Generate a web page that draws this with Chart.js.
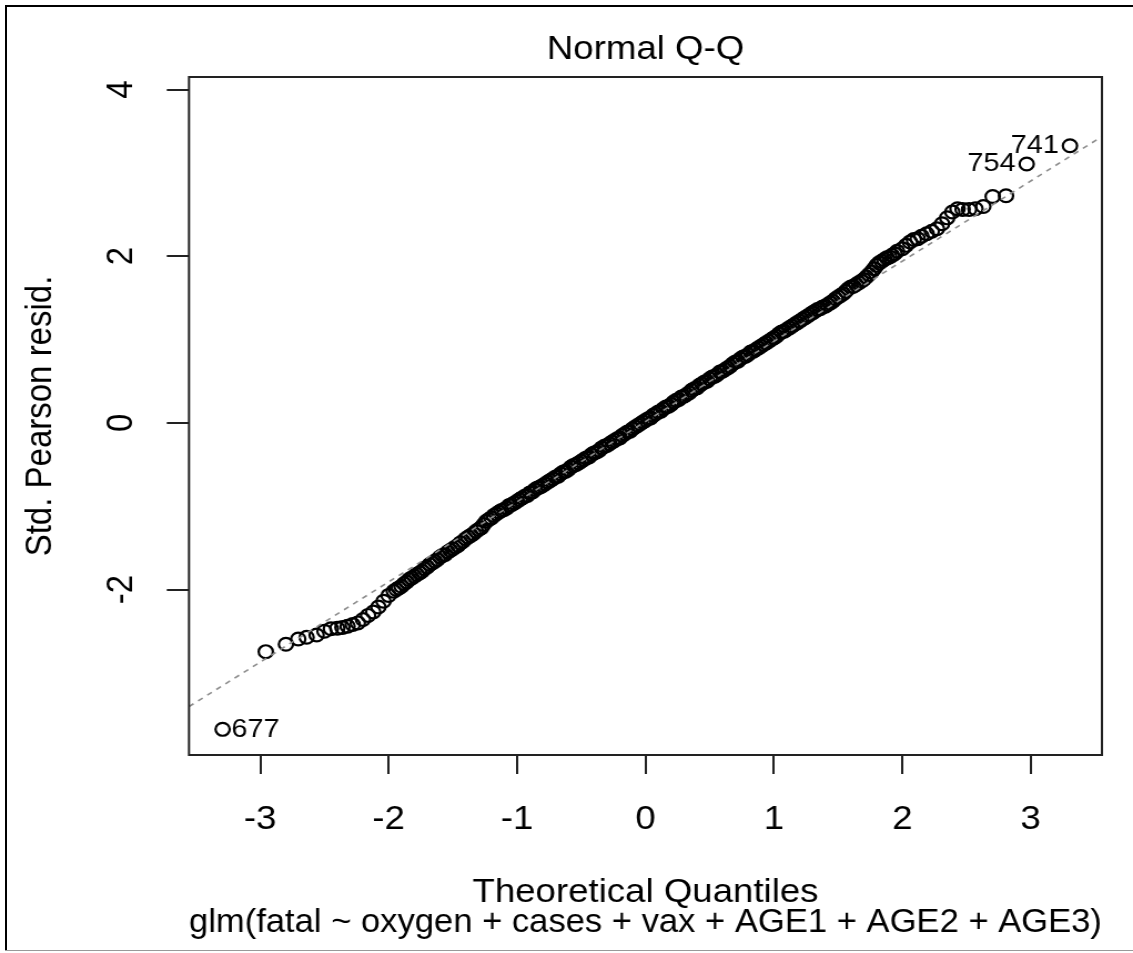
<!DOCTYPE html>
<html>
<head>
<meta charset="utf-8">
<title>Normal Q-Q</title>
<script src="https://cdn.jsdelivr.net/npm/chart.js@4.4.1/dist/chart.umd.min.js"></script>
<style>
  html, body { margin: 0; padding: 0; background: #fff; }
  body { width: 1133px; height: 953px; position: relative; overflow: hidden; }
  .edge { position: absolute; z-index: 2; }
  #edgeLeft { left: 5px; top: 5px; width: 2px; height: 946px; background: #000; }
  #edgeTop { left: 5px; top: 5px; width: 1128px; height: 2px; background: #000; }
  #edgeBottom { left: 5px; top: 950px; width: 1128px; height: 1px; background: #999; }
  /* the source image is a little wider than it is tall, so stretch the canvas sideways */
  #wrap { position: absolute; left: 0; top: 0; width: 1021px; height: 953px; transform: scaleX(1.1097); transform-origin: 0 0; }
</style>
</head>
<body>
<div id="wrap"><canvas id="qq" width="1021" height="953"></canvas></div>
<div class="edge" id="edgeLeft"></div>
<div class="edge" id="edgeTop"></div>
<div class="edge" id="edgeBottom"></div>
<script>
// theoretical quantiles (x) and standardized Pearson residuals (y)
var theoQ = [
  -3.293, -2.957, -2.800, -2.704, -2.639, -2.561, -2.500, -2.450, -2.400, -2.360,
  -2.320, -2.280, -2.240, -2.200, -2.160, -2.120, -2.080, -2.040, -2.000,
  -1.96, -1.94, -1.92, -1.90, -1.88, -1.86, -1.84, -1.82, -1.80, -1.78,
  -1.76, -1.74, -1.72, -1.70, -1.68, -1.66, -1.64, -1.62, -1.60, -1.58,
  -1.56, -1.54, -1.52, -1.50, -1.48, -1.46, -1.44, -1.42, -1.40, -1.38,
  -1.36, -1.34, -1.32, -1.30, -1.28, -1.26, -1.24, -1.22, -1.20, -1.18,
  -1.16, -1.14, -1.12, -1.10, -1.08, -1.06, -1.04, -1.02, -1.00, -0.98,
  -0.96, -0.94, -0.92, -0.90, -0.88, -0.86, -0.84, -0.82, -0.80, -0.78,
  -0.76, -0.74, -0.72, -0.70, -0.68, -0.66, -0.64, -0.62, -0.60, -0.58,
  -0.56, -0.54, -0.52, -0.50, -0.48, -0.46, -0.44, -0.42, -0.40, -0.38,
  -0.36, -0.34, -0.32, -0.30, -0.28, -0.26, -0.24, -0.22, -0.20, -0.18,
  -0.16, -0.14, -0.12, -0.10, -0.08, -0.06, -0.04, -0.02, 0.00, 0.02,
  0.04, 0.06, 0.08, 0.10, 0.12, 0.14, 0.16, 0.18, 0.20, 0.22,
  0.24, 0.26, 0.28, 0.30, 0.32, 0.34, 0.36, 0.38, 0.40, 0.42,
  0.44, 0.46, 0.48, 0.50, 0.52, 0.54, 0.56, 0.58, 0.60, 0.62,
  0.64, 0.66, 0.68, 0.70, 0.72, 0.74, 0.76, 0.78, 0.80, 0.82,
  0.84, 0.86, 0.88, 0.90, 0.92, 0.94, 0.96, 0.98, 1.00, 1.02,
  1.04, 1.06, 1.08, 1.10, 1.12, 1.14, 1.16, 1.18, 1.20, 1.22,
  1.24, 1.26, 1.28, 1.30, 1.32, 1.34, 1.36, 1.38, 1.40, 1.42,
  1.44, 1.46, 1.48, 1.50, 1.52, 1.54, 1.56, 1.58, 1.60, 1.62,
  1.64, 1.66, 1.68, 1.70, 1.72, 1.74, 1.76, 1.78, 1.80, 1.82,
  1.84, 1.86, 1.88, 1.90, 1.92, 1.94, 1.96,
  2.00, 2.03, 2.06, 2.09, 2.12, 2.15, 2.19, 2.23, 2.27, 2.31,
  2.35, 2.39, 2.43, 2.47, 2.52, 2.57, 2.631, 2.704, 2.808, 2.969, 3.306
];
var pearsonResid = [
  -3.677, -2.745, -2.657, -2.593, -2.573, -2.545, -2.500, -2.470, -2.465, -2.455,
  -2.440, -2.420, -2.400, -2.360, -2.310, -2.270, -2.210, -2.140, -2.070,
  -2.02, -2.00, -1.98, -1.96, -1.93, -1.91, -1.88, -1.86, -1.84, -1.82,
  -1.80, -1.78, -1.75, -1.73, -1.70, -1.68, -1.66, -1.64, -1.61, -1.59,
  -1.58, -1.55, -1.53, -1.51, -1.49, -1.47, -1.44, -1.42, -1.39, -1.37,
  -1.35, -1.33, -1.30, -1.28, -1.26, -1.22, -1.18, -1.16, -1.14, -1.11,
  -1.09, -1.07, -1.05, -1.04, -1.02, -0.99, -0.98, -0.96, -0.94, -0.92,
  -0.90, -0.88, -0.87, -0.84, -0.83, -0.80, -0.78, -0.77, -0.75, -0.73,
  -0.71, -0.69, -0.67, -0.65, -0.64, -0.61, -0.59, -0.58, -0.56, -0.53,
  -0.51, -0.50, -0.48, -0.46, -0.44, -0.42, -0.41, -0.38, -0.36, -0.35,
  -0.33, -0.30, -0.28, -0.27, -0.25, -0.23, -0.21, -0.19, -0.18, -0.15,
  -0.13, -0.11, -0.10, -0.07, -0.05, -0.03, -0.01, 0.01, 0.03, 0.05,
  0.06, 0.09, 0.11, 0.13, 0.14, 0.17, 0.19, 0.20, 0.22, 0.25,
  0.27, 0.28, 0.31, 0.32, 0.34, 0.36, 0.39, 0.41, 0.42, 0.45,
  0.47, 0.49, 0.50, 0.53, 0.55, 0.56, 0.58, 0.61, 0.62, 0.64,
  0.66, 0.68, 0.71, 0.73, 0.74, 0.77, 0.79, 0.80, 0.82, 0.85,
  0.86, 0.88, 0.90, 0.92, 0.94, 0.96, 0.98, 1.00, 1.02, 1.04,
  1.07, 1.09, 1.10, 1.12, 1.14, 1.16, 1.18, 1.20, 1.22, 1.24,
  1.26, 1.28, 1.30, 1.32, 1.34, 1.36, 1.37, 1.39, 1.40, 1.42,
  1.44, 1.46, 1.49, 1.51, 1.53, 1.55, 1.58, 1.61, 1.63, 1.64,
  1.66, 1.68, 1.70, 1.72, 1.75, 1.78, 1.81, 1.85, 1.89, 1.92,
  1.94, 1.96, 1.98, 1.99, 2.01, 2.03, 2.06,
  2.09, 2.13, 2.17, 2.20, 2.21, 2.24, 2.27, 2.30, 2.33, 2.39,
  2.46, 2.53, 2.57, 2.56, 2.56, 2.57, 2.597, 2.717, 2.725, 3.106, 3.325
];

// dashed qqline, given at the two ends of the x range
var lineX = [-3.555, 3.555];
var lineY = [-3.404, 3.436];

var xTicks = [-3, -2, -1, 0, 1, 2, 3];
var yTicks = [-2, 0, 2, 4];

// the three flagged observations
var flagIds = ["677", "754", "741"];
var flagAtX = [-3.293, 2.969, 3.306];
var flagSide = ["right", "left", "left"];

var FONT = "'Liberation Sans', Arial, sans-serif";

var plotBox = {
  id: "plotBox",
  afterDraw: function (chart) {
    var a = chart.chartArea, ctx = chart.ctx;
    ctx.save();
    ctx.strokeStyle = "#222";
    ctx.lineWidth = 2;
    ctx.strokeRect(a.left, a.top, a.right - a.left, a.bottom - a.top);
    ctx.restore();
  }
};

// R draws y tick labels parallel to the axis, centred on the tick
var yLabels = {
  id: "yLabels",
  afterDraw: function (chart) {
    var ys = chart.scales.y, ctx = chart.ctx;
    ctx.save();
    ctx.fillStyle = "#000";
    ctx.font = "33px " + FONT;
    ctx.textAlign = "center";
    ctx.textBaseline = "middle";
    yTicks.forEach(function (v) {
      ctx.save();
      ctx.translate(110, ys.getPixelForValue(v));
      ctx.rotate(-Math.PI / 2);
      ctx.fillText(String(v), 0, 0);
      ctx.restore();
    });
    ctx.restore();
  }
};

var flagLabels = {
  id: "flagLabels",
  afterDatasetsDraw: function (chart) {
    var meta = chart.getDatasetMeta(1), ctx = chart.ctx;
    ctx.save();
    ctx.fillStyle = "#000";
    ctx.font = "26px " + FONT;
    ctx.textBaseline = "middle";
    flagIds.forEach(function (id, i) {
      var el = meta.data[theoQ.indexOf(flagAtX[i])];
      if (!el) return;
      var right = flagSide[i] === "right";
      ctx.textAlign = right ? "left" : "right";
      ctx.fillText(id, el.x + (right ? 8 : -10), el.y);
    });
    ctx.restore();
  }
};

new Chart(document.getElementById("qq"), {
  type: "scatter",
  data: {
    datasets: [{
      label: "qqline",
      data: lineX.map(function (x, i) { return { x: x, y: lineY[i] }; }),
      showLine: true,
      borderColor: "#8c8c8c",
      borderWidth: 1.6,
      borderDash: [5, 5],
      pointRadius: 0,
      order: 0
    }, {
      label: "residuals",
      data: theoQ.map(function (x, i) { return { x: x, y: pearsonResid[i] }; }),
      pointStyle: "circle",
      pointRadius: 6.4,
      borderWidth: 2.2,
      borderColor: "#000",
      backgroundColor: "rgba(0,0,0,0)",
      order: 1
    }]
  },
  options: {
    responsive: false,
    devicePixelRatio: 1,
    animation: false,
    layout: { padding: { left: 0, right: 28, top: 0, bottom: 0 } },
    plugins: {
      legend: { display: false },
      tooltip: { enabled: false },
      title: {
        display: true,
        fullSize: false,
        text: "Normal Q-Q",
        color: "#000",
        font: { family: FONT, size: 33, weight: "normal", lineHeight: 1.2 },
        padding: { top: 30, bottom: 7.4 }
      }
    },
    scales: {
      x: {
        type: "linear",
        min: -3.555,
        max: 3.555,
        afterBuildTicks: function (s) { s.ticks = xTicks.map(function (v) { return { value: v }; }); },
        afterFit: function (s) { s.height = 198; },
        grid: { drawOnChartArea: false, drawTicks: true, tickLength: 19, color: "#222", lineWidth: 2 },
        border: { display: false },
        ticks: { color: "#000", font: { family: FONT, size: 33 }, padding: 26, maxRotation: 0, autoSkip: false },
        title: {
          display: true,
          text: ["Theoretical Quantiles", "glm(fatal ~ oxygen + cases + vax + AGE1 + AGE2 + AGE3)"],
          color: "#000",
          font: { family: FONT, size: 33, lineHeight: "30px" },
          padding: { top: 0, bottom: 15 }
        }
      },
      y: {
        type: "linear",
        min: -3.985,
        max: 4.15,
        afterBuildTicks: function (s) { s.ticks = yTicks.map(function (v) { return { value: v }; }); },
        afterFit: function (s) { s.width = 170.3; },
        grid: { drawOnChartArea: false, drawTicks: true, tickLength: 20, color: "#222", lineWidth: 2 },
        border: { display: false },
        ticks: { display: false },
        title: {
          display: true,
          text: "Std. Pearson resid.",
          color: "#000",
          font: { family: FONT, size: 33, lineHeight: 1 },
          padding: { top: 20, bottom: 0 }
        }
      }
    }
  },
  plugins: [plotBox, yLabels, flagLabels]
});
</script>
</body>
</html>
